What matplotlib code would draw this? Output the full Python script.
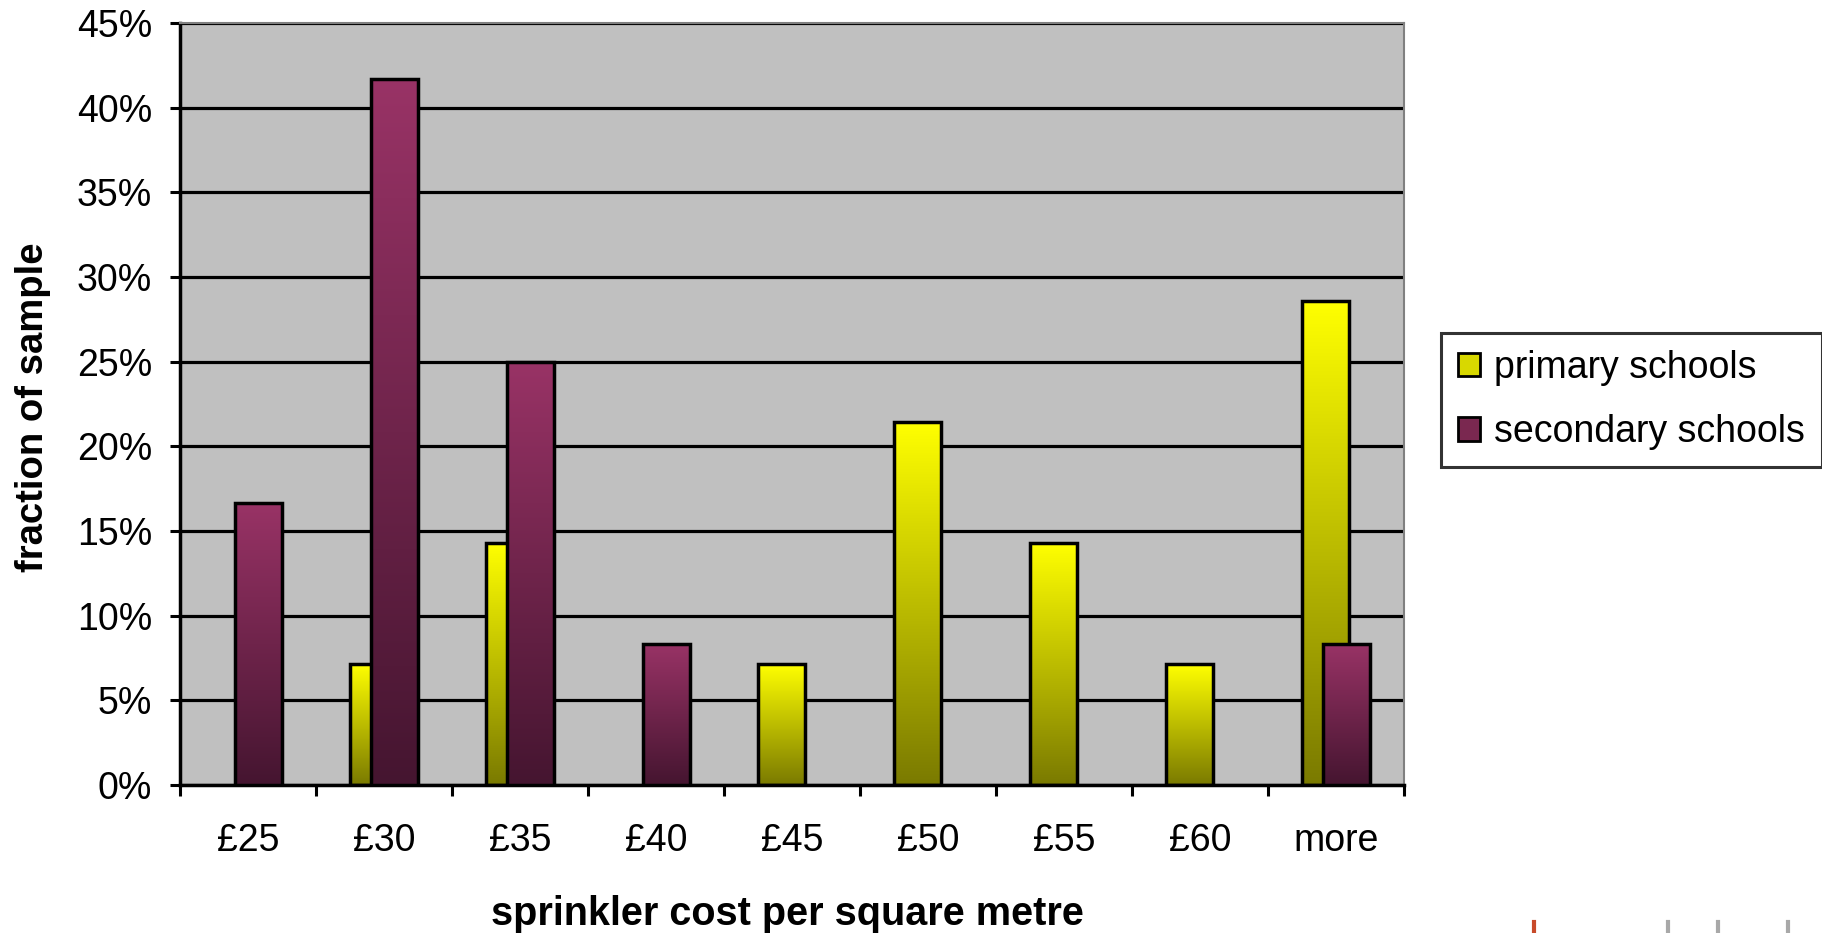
import numpy as np
import matplotlib
matplotlib.use("Agg")
import matplotlib.pyplot as plt
from matplotlib.colors import LinearSegmentedColormap
from matplotlib.ticker import PercentFormatter, NullFormatter
from matplotlib.patches import Patch
from matplotlib.lines import Line2D

plt.rcParams['font.family'] = ['Liberation Sans', 'DejaVu Sans']

# share of each sample falling in each cost band
cost_bands = ["£25", "£30", "£35", "£40", "£45", "£50", "£55", "£60", "more"]
primary = [0.0, 0.0714, 0.1429, 0.0, 0.0714, 0.2143, 0.1429, 0.0714, 0.2857]
secondary = [0.1667, 0.4167, 0.25, 0.0833, 0.0, 0.0, 0.0, 0.0, 0.0833]
series_names = ["primary schools", "secondary schools"]

fig = plt.figure(figsize=(18.22, 9.33), dpi=100)
ax = fig.add_axes([0.0988, 0.1586, 0.6718, 0.8167])
ax.set_facecolor('#C0C0C0')

x = np.arange(len(cost_bands))
bar_w = 0.345
grad = np.linspace(0, 1, 256).reshape(-1, 1)


def gradient_bars(xpos, vals, top, bottom, z):
    # each bar fades from a light top to a dark base
    cmap = LinearSegmentedColormap.from_list('fade', [bottom, top])
    vals = np.asarray(vals)
    keep = vals > 0
    bars = ax.bar(xpos[keep], vals[keep], width=bar_w, facecolor='none',
                  edgecolor='black', linewidth=2.5, zorder=z + 0.1)
    for b in bars:
        ax.imshow(grad, extent=[b.get_x(), b.get_x() + b.get_width(), 0, b.get_height()],
                  origin='lower', aspect='auto', cmap=cmap, zorder=z)
    return bars


gradient_bars(x - 0.08, primary, '#FFFF00', '#7A7A00', 2)
gradient_bars(x + 0.08, secondary, '#993366', '#451530', 3)

ax.set_xlim(-0.5, len(cost_bands) - 0.5)
ax.set_ylim(0, 0.45)

ax.set_yticks(np.arange(0, 0.451, 0.05))
ax.yaxis.set_major_formatter(PercentFormatter(1.0, decimals=0))
ax.yaxis.grid(True, color='black', linewidth=2.3)
ax.set_axisbelow(True)
ax.tick_params(axis='y', direction='out', length=7, width=2.2, labelsize=27, pad=13)

ax.set_xticks(np.arange(-0.5, len(cost_bands), 1))
ax.xaxis.set_major_formatter(NullFormatter())
ax.set_xticks(x, labels=cost_bands, minor=True)
ax.tick_params(axis='x', which='major', direction='out', length=8, width=2.2)
ax.tick_params(axis='x', which='minor', length=0, pad=27, labelsize=27)

for s in ['left', 'bottom']:
    ax.spines[s].set_color('black')
    ax.spines[s].set_linewidth(2.5)
for s in ['top', 'right']:
    ax.spines[s].set_color('#808080')
    ax.spines[s].set_linewidth(1.5)

fig.text(0.432, 0.02, "sprinkler cost per square metre", fontsize=28.5,
         fontweight='bold', ha='center', va='center')
fig.text(0.018, 0.564, "fraction of sample", fontsize=27.5, fontweight='bold',
         rotation=90, ha='center', va='center')

handles = [Patch(facecolor='#D8D800', edgecolor='black', linewidth=2),
           Patch(facecolor='#7A2850', edgecolor='black', linewidth=2)]
leg = fig.legend(handles, series_names, loc='upper left', bbox_to_anchor=(0.791, 0.643),
                 fontsize=27, frameon=True, fancybox=False, edgecolor='black',
                 handlelength=0.58, handleheight=0.58, handletextpad=0.38,
                 labelspacing=0.75, borderpad=0.45, borderaxespad=0)
leg.get_frame().set_linewidth(2.2)

# stubs of the next chart poking up at the bottom edge
for xf, col in [(0.842, '#C84A2A'), (0.9155, '#A8A8A8'), (0.943, '#A8A8A8'), (0.9815, '#A8A8A8')]:
    fig.add_artist(Line2D([xf, xf], [0, 0.012], color=col, linewidth=3))

fig.savefig("out.png", dpi=100)
